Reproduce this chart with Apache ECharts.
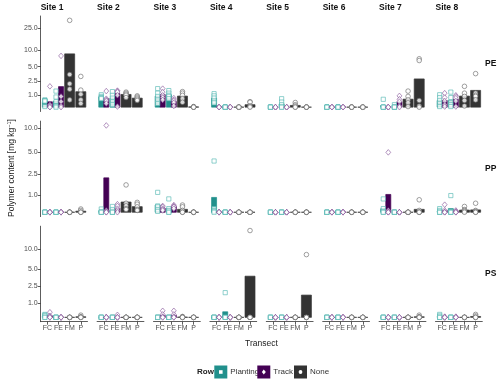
<!DOCTYPE html>
<html>
<head>
<meta charset="utf-8">
<script src="https://cdn.jsdelivr.net/npm/echarts@6/dist/echarts.min.js"></script>
<style>
  html, body { margin: 0; padding: 0; background: #fff; }
  #chart { width: 500px; height: 380px; }
</style>
</head>
<body>
<div id="chart"></div>
<script>
const sites = ['Site 1', 'Site 2', 'Site 3', 'Site 4', 'Site 5', 'Site 6', 'Site 7', 'Site 8']
const polymers = ['PE', 'PP', 'PS']
const transects = ['FC', 'FE', 'FM', 'P']
const rowTypes = ['Planting', 'Track', 'None']
const yTicks = [[1, 2.5, 5, 10, 25], [1, 2.5, 5, 10], [1, 2.5, 5, 10]]

// groups per site: FC Planting, FC Track, FE Planting, FE Track, FM None, P None
const Z = [0, 0, 0, 0, 0]

// mean per group (bars)
const peBars = [
  [0.44, 0.44, 0.5, 1.87, 8.6, 1.34],
  [0.84, 0.7, 0.75, 1.15, 1.08, 0.75],
  [0.93, 1.07, 1.05, 0.46, 0.93, 0.02],
  [0.74, 0, 0, 0, 0, 0.2],
  [0, 0, 0.26, 0, 0.14, 0],
  [0, 0, 0, 0, 0, 0],
  [0.13, 0, 0.04, 0.43, 0.66, 2.83],
  [0.55, 0.55, 0.55, 0.64, 0.93, 1.47]
]
const ppBars = [
  [0, 0, 0, 0, 0, 0.06],
  [0.04, 2.19, 0.1, 0.22, 0.57, 0.31],
  [0.4, 0.22, 0.21, 0.31, 0.16, 0],
  [0.84, 0, 0, 0, 0, 0],
  [0, 0, 0, 0, 0, 0],
  [0, 0, 0, 0, 0, 0],
  [0.2, 1.02, 0, 0, 0, 0.16],
  [0.06, 0.1, 0.2, 0.03, 0.12, 0.13]
]
const psBars = [
  [0.09, 0.1, 0, 0, 0, 0.04],
  [0, 0, 0, 0.03, 0, 0],
  [0, 0.14, 0, 0.14, 0.02, 0],
  [0, 0, 0.38, 0, 0, 3.8],
  [0, 0, 0, 0, 0, 1.66],
  [0, 0, 0, 0, 0, 0],
  [0, 0, 0, 0, 0, 0.04],
  [0.06, 0.01, 0, 0.01, 0, 0.06]
]

// replicate samples (points)
const pePoints = [
  [[0.6, 0.55, 0.5, 0.5, 0.05], [1.9, 0.2, 0.1, 0, 0], [1.4, 0.85, 0.45, 0.1, 0], [7.9, 0.9, 0.45, 0.1, 0], [34, 3.5, 2.2, 1.6, 0.6], [3.2, 1.5, 1.1, 0.6, 0.3]],
  [[1.05, 0.9, 0.8, 0.75, 0.7], [1.4, 0.7, 0.6, 0.5, 0.3], [1.35, 1.0, 0.75, 0.45, 0.2], [1.45, 1.4, 1.3, 1.0, 0.05], [1.3, 1.2, 1.1, 1.0, 0.8], [0.95, 0.85, 0.75, 0.65, 0.55]],
  [[1.65, 1.2, 0.9, 0.6, 0.3], [1.65, 1.3, 1.0, 0.8, 0.6], [1.45, 1.2, 1.0, 0.9, 0.7], [0.75, 0.6, 0.5, 0.35, 0.1], [1.35, 1.2, 1.0, 0.7, 0.4], [0.05, 0, 0, 0, 0]],
  [[1.15, 0.95, 0.75, 0.5, 0.35], Z, Z, Z, Z, [0.45, 0.4, 0.1, 0.05, 0]],
  [Z, Z, [0.7, 0.42, 0.2, 0, 0], Z, [0.38, 0.2, 0.1, 0, 0], Z],
  [Z, Z, Z, Z, Z, Z],
  [[0.65, 0, 0, 0, 0], Z, [0.2, 0, 0, 0, 0], [0.95, 0.65, 0.45, 0.1, 0], [1.4, 0.9, 0.6, 0.35, 0.05], [7.0, 6.5, 0.55, 0.1, 0]],
  [[1.05, 0.8, 0.55, 0.3, 0.05], [1.2, 0.8, 0.5, 0.2, 0.05], [1.3, 0.8, 0.4, 0.2, 0.05], [1.0, 0.9, 0.75, 0.5, 0.05], [1.9, 1.2, 0.9, 0.55, 0.1], [3.65, 1.2, 1.0, 0.9, 0.6]]
]
const ppPoints = [
  [Z, Z, Z, Z, Z, [0.18, 0.1, 0, 0, 0]],
  [[0.18, 0, 0, 0, 0], [10.8, 0.1, 0.05, 0, 0], [0.32, 0.15, 0, 0, 0], [0.45, 0.35, 0.2, 0.1, 0], [1.65, 0.5, 0.35, 0.2, 0.15], [0.55, 0.45, 0.3, 0.15, 0.1]],
  [[1.15, 0.35, 0.3, 0.15, 0.05], [0.35, 0.3, 0.2, 0.15, 0.1], [0.75, 0.2, 0.1, 0, 0], [0.4, 0.35, 0.3, 0.3, 0.2], [0.4, 0.3, 0.1, 0, 0], Z],
  [[3.85, 0.2, 0.1, 0.05, 0], Z, Z, Z, Z, Z],
  [Z, Z, Z, Z, Z, Z],
  [Z, Z, Z, Z, Z, Z],
  [[0.75, 0.2, 0.05, 0, 0], [5.0, 0.1, 0, 0, 0], Z, Z, Z, [0.7, 0.1, 0, 0, 0]],
  [[0.2, 0.1, 0, 0, 0], [0.42, 0.1, 0, 0, 0], [0.95, 0.05, 0, 0, 0], [0.1, 0.05, 0, 0, 0], [0.32, 0.15, 0.1, 0.05, 0], [0.5, 0.1, 0.05, 0, 0]]
]
const psPoints = [
  [[0.2, 0.15, 0.1, 0, 0], [0.35, 0.1, 0.05, 0, 0], Z, Z, Z, [0.15, 0.05, 0, 0, 0]],
  [Z, Z, Z, [0.17, 0, 0, 0, 0], Z, Z],
  [Z, [0.45, 0.2, 0.05, 0, 0], Z, [0.45, 0.2, 0.05, 0, 0], [0.06, 0.03, 0, 0, 0], Z],
  [Z, Z, [1.88, 0, 0, 0, 0], Z, Z, [19.0, 0, 0, 0, 0]],
  [Z, Z, Z, Z, Z, [8.3, 0, 0, 0, 0]],
  [Z, Z, Z, Z, Z, Z],
  [Z, Z, Z, Z, Z, [0.15, 0.05, 0, 0, 0]],
  [[0.2, 0.1, 0, 0, 0], [0.05, 0, 0, 0, 0], Z, [0.05, 0, 0, 0, 0], Z, [0.2, 0.1, 0, 0, 0]]
]

const allBars = [peBars, ppBars, psBars]
const allPoints = [pePoints, ppPoints, psPoints]

// dodge layout of the 6 groups on the transect axis
const groupX = [0.775, 1.225, 1.775, 2.225, 3, 4]
const groupW = [0.45, 0.45, 0.45, 0.45, 0.9, 0.9]
const groupRow = [0, 1, 0, 1, 2, 2]

const barColors = ['#21908C', '#440154', '#333333']
const barStroke = ['#21908C', '#440154', '#3a3a3a']
const pointColors = ['rgba(75,180,175,0.85)', 'rgba(130,80,150,0.85)', 'rgba(100,100,100,0.85)']
const pointSymbols = ['rect', 'diamond', 'circle']
const pointSizes = [4.2, [4.8, 5.6], 4.6]

const font = 'Liberation Sans, Arial, Helvetica, sans-serif'
const tr = v => Math.asinh(v / 2) // pseudo-log scale
const untr = t => 2 * Math.sinh(t)

const panelLeft = 40.7
const panelPitch = 56.4
const panelW = 46.8
const panelH = 95.5
const rowTop = [16, 121.1, 226.2]

function renderBar (params, api) {
  const x = api.value(0)
  const h = api.value(1)
  const w = api.value(2)
  const k = api.value(3)
  const a = api.coord([x - w / 2, h])
  const b = api.coord([x + w / 2, 0])
  return {
    type: 'rect',
    shape: { x: a[0], y: a[1], width: b[0] - a[0], height: b[1] - a[1] },
    style: { fill: barColors[k], stroke: barStroke[k], lineWidth: 0.7 }
  }
}

const chart = echarts.init(document.getElementById('chart'), null, { renderer: 'canvas' })
const option = {
  animation: false,
  backgroundColor: '#fff',
  grid: [],
  xAxis: [],
  yAxis: [],
  series: [],
  graphic: []
}

polymers.forEach((pol, r) => {
  const bars = allBars[r]
  const pts = allPoints[r]
  const d = tr(Math.max(...pts.flat(2)))
  const bottomRow = r === polymers.length - 1
  sites.forEach((site, c) => {
    const i = r * sites.length + c
    const firstCol = c === 0
    option.grid.push({
      left: panelLeft + c * panelPitch,
      top: rowTop[r],
      width: panelW,
      height: panelH,
      outerBoundsMode: 'none'
    })
    option.xAxis.push({
      type: 'value',
      gridIndex: i,
      min: 0.4,
      max: 4.6,
      splitLine: { show: false },
      axisLine: { show: bottomRow, onZero: false, lineStyle: { color: '#333', width: 0.8 } },
      axisTick: { show: bottomRow, customValues: [1, 2, 3, 4], length: 3, lineStyle: { color: '#333', width: 0.8 } },
      axisLabel: {
        show: bottomRow,
        customValues: [1, 2, 3, 4],
        formatter: v => transects[Math.round(v) - 1],
        fontSize: 7,
        color: '#4d4d4d',
        fontFamily: font,
        margin: 3
      }
    })
    option.yAxis.push({
      type: 'value',
      gridIndex: i,
      min: -0.05 * d,
      max: 1.05 * d,
      splitLine: { show: false },
      axisLine: { show: firstCol, onZero: false, lineStyle: { color: '#333', width: 0.8 } },
      axisTick: { show: firstCol, customValues: yTicks[r].map(tr), length: 3, lineStyle: { color: '#333', width: 0.8 } },
      axisLabel: {
        show: firstCol,
        customValues: yTicks[r].map(tr),
        formatter: v => untr(v).toFixed(1),
        fontSize: 7,
        color: '#4d4d4d',
        fontFamily: font,
        margin: 3
      }
    })
    option.series.push({
      type: 'custom',
      xAxisIndex: i,
      yAxisIndex: i,
      silent: true,
      z: 2,
      renderItem: renderBar,
      data: bars[c].map((v, g) => [groupX[g], tr(v), groupW[g], groupRow[g]])
    })
    rowTypes.forEach((rowType, k) => {
      const data = []
      pts[c].forEach((vals, g) => {
        if (groupRow[g] === k) vals.forEach(v => data.push([groupX[g], tr(v)]))
      })
      option.series.push({
        type: 'scatter',
        name: rowType,
        xAxisIndex: i,
        yAxisIndex: i,
        silent: true,
        z: 3,
        symbol: pointSymbols[k],
        symbolSize: pointSizes[k],
        itemStyle: { color: '#fff', borderColor: pointColors[k], borderWidth: 0.9 },
        data
      })
    })
    if (r === 0) {
      option.graphic.push({
        type: 'text',
        left: panelLeft + c * panelPitch,
        top: 3,
        style: { text: site, font: 'bold 8.5px ' + font, fill: '#111' }
      })
    }
  })
  option.graphic.push({
    type: 'text',
    x: 485,
    y: rowTop[r] + panelH / 2,
    style: { text: pol, font: 'bold 8.5px ' + font, fill: '#111', verticalAlign: 'middle' }
  })
})

// axis titles
option.graphic.push({
  type: 'text',
  x: 12,
  y: 168,
  rotation: Math.PI / 2,
  style: {
    text: 'Polymer content [mg kg{sup|−1}]',
    font: '8.5px ' + font,
    fill: '#222',
    align: 'center',
    verticalAlign: 'middle',
    rich: { sup: { fontSize: 5.5, fontFamily: font, fill: '#222', verticalAlign: 'top', padding: [0, 0, 5, 0] } }
  }
})
option.graphic.push({
  type: 'text',
  x: 261.5,
  y: 344,
  style: { text: 'Transect', font: '8.5px ' + font, fill: '#222', align: 'center', verticalAlign: 'middle' }
})

// legend
const legendY = 372
option.graphic.push({
  type: 'text', x: 197, y: legendY,
  style: { text: 'Row', font: 'bold 8px ' + font, fill: '#222', verticalAlign: 'middle' }
})
const keyX = [214.3, 257.3, 294]
rowTypes.forEach((rowType, k) => {
  option.graphic.push({
    type: 'rect',
    shape: { x: keyX[k], y: legendY - 6.5, width: 13, height: 13 },
    style: { fill: barColors[k] }
  })
  const cx = keyX[k] + 6.5
  const mark = k === 0
    ? { type: 'rect', shape: { x: cx - 1.8, y: legendY - 1.8, width: 3.6, height: 3.6 } }
    : k === 1
      ? { type: 'polygon', shape: { points: [[cx, legendY - 2.4], [cx + 2, legendY], [cx, legendY + 2.4], [cx - 2, legendY]] } }
      : { type: 'circle', shape: { cx, cy: legendY, r: 1.9 } }
  mark.style = { fill: '#fff' }
  option.graphic.push(mark)
  option.graphic.push({
    type: 'text', x: keyX[k] + 16, y: legendY,
    style: { text: rowType, font: '8px ' + font, fill: '#333', verticalAlign: 'middle' }
  })
})

chart.setOption(option)
</script>
</body>
</html>
